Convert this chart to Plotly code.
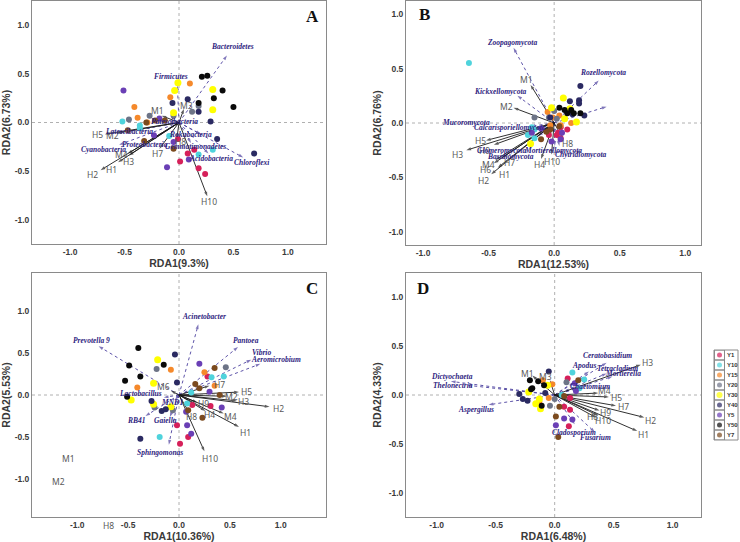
import plotly.graph_objects as go

# ---------------- groups / legend ----------------
GROUPS = ["Y1", "Y10", "Y15", "Y20", "Y30", "Y40", "Y5", "Y50", "Y7"]
GROUP_COLORS = ["#d6205a", "#4fd3dc", "#f5892b", "#6d7487", "#ffff00",
                "#2b2a62", "#6a3fb5", "#0a0a0a", "#7b4a1e"]

# ---------------- Panel A (bacteria phyla) ----------------
A_px = [0.21, 0.26, 0.40, 0.32, 0.50, 0.18,
        -0.01, -0.04, 0.31, 0.31, -0.05,
        0.10, -0.08, -0.41, -0.38, -0.29,
        0.12, 0.18, -0.05, -0.27, -0.46,
        0.08, -0.06, 0.18, 0.29, 0.35, 0.69,
        -0.51, -0.18, -0.23, -0.05, 0.09, -0.11,
        -0.52, -0.36, -0.36, -0.09, 0.18, 0.31,
        -0.47, -0.30, -0.22, -0.13, -0.32, -0.05,
        -0.01, 0.14, 0.08, 0.01, 0.18, 0.24]
A_py = [0.47, 0.48, 0.33, 0.25, 0.16, 0.20,
        0.41, 0.33, 0.34, 0.13, 0.10,
        0.40, 0.26, 0.16, 0.05, 0.00,
        0.11, 0.17, 0.07, 0.07, 0.03,
        0.24, 0.20, 0.11, 0.01, -0.17, -0.32,
        0.33, 0.04, -0.13, -0.20, -0.38, -0.46,
        0.01, -0.03, -0.06, -0.14, -0.33, -0.28,
        -0.08, 0.00, 0.02, 0.02, -0.19, -0.27,
        -0.17, -0.28, -0.32, -0.40, -0.47, -0.53]
A_pg = (["Y50"] * 6 + ["Y30"] * 5 + ["Y15"] * 5 + ["Y20"] * 5 + ["Y40"] * 6 +
        ["Y5"] * 6 + ["Y10"] * 6 + ["Y7"] * 6 + ["Y1"] * 6)

A_env_names = ["M1", "M3", "H5", "M2", "M4", "H3", "H1", "H2", "H7", "H8", "H10"]
A_env_x = [-0.16, 0.045, -0.68, -0.57, -0.47, -0.46, -0.56, -0.72, -0.18, -0.02, 0.26]
A_env_y = [0.07, 0.14, -0.12, -0.11, -0.32, -0.34, -0.41, -0.49, -0.27, -0.17, -0.76]
A_env_lx = [-0.20, 0.07, -0.75, -0.61, -0.53, -0.46, -0.62, -0.79, -0.20, 0.01, 0.28]
A_env_ly = [0.12, 0.17, -0.12, -0.13, -0.33, -0.40, -0.48, -0.53, -0.32, -0.20, -0.81]

A_tax_names = ["Bacteroidetes", "Firmicutes", "Patescibacteria", "Latescibacteria",
               "Proteobacteria", "Cyanobacteria", "Rokubacteria", "Gemmatimonadetes",
               "Acidobacteria", "Chloroflexi"]
A_tax_x = [0.44, -0.015, -0.20, -0.38, -0.25, -0.55, 0.20, 0.11, 0.27, 0.59]
A_tax_y = [0.69, 0.38, 0.02, -0.08, -0.18, -0.23, -0.12, -0.21, -0.32, -0.36]
A_tax_lx = [0.49, -0.07, -0.04, -0.46, -0.31, -0.69, 0.11, 0.15, 0.29, 0.67]
A_tax_ly = [0.78, 0.47, 0.01, -0.09, -0.23, -0.28, -0.12, -0.25, -0.37, -0.41]

# ---------------- Panel B (fungal phyla) ----------------
B_px = [0.20, 0.19, 0.19, 0.12, 0.23, 0.14, -0.03,
        0.04, 0.08, 0.13, 0.15, 0.20, 0.10,
        0.07, -0.02, 0.12, 0.08, 0.17, -0.18,
        -0.05, 0.04, -0.03, 0.13, 0.05, -0.01,
        0.00, -0.15, -0.04, 0.02,
        -0.65, -0.20, -0.15, -0.15, -0.17,
        -0.17, -0.02, 0.05, 0.06, -0.10,
        -0.10, -0.06, 0.04, -0.03,
        0.02, 0.05, 0.10, 0.05, -0.04, 0.03]
B_py = [0.34, 0.21, 0.18, 0.20, 0.07, 0.08, 0.05,
        0.14, 0.12, 0.12, 0.09, 0.09, 0.09,
        0.23, 0.14, 0.13, 0.04, 0.01, -0.19,
        0.10, 0.07, -0.02, 0.00, -0.02, 0.05,
        0.11, 0.05, 0.05, 0.04,
        0.55, -0.11, -0.14, -0.06, -0.04,
        -0.09, -0.17, -0.15, -0.09, -0.05,
        -0.15, -0.08, -0.03, -0.06,
        -0.11, -0.04, -0.06, -0.14, -0.11, -0.09]
B_pg = (["Y40"] * 7 + ["Y50"] * 6 + ["Y30"] * 6 + ["Y15"] * 6 + ["Y20"] * 4 +
        ["Y10"] * 5 + ["Y5"] * 5 + ["Y7"] * 4 + ["Y1"] * 6)

B_env_names = ["M1", "M2", "H5", "H9", "H3", "M4", "H6", "H7", "H1", "H2", "H4", "H10", "H8"]
B_env_x = [-0.18, -0.31, -0.52, -0.46, -0.67, -0.45, -0.46, -0.40, -0.43, -0.48, -0.10, -0.02, 0.07]
B_env_y = [0.35, 0.14, -0.16, -0.20, -0.25, -0.34, -0.37, -0.32, -0.41, -0.47, -0.33, -0.29, -0.15]
B_env_lx = [-0.21, -0.36, -0.56, -0.53, -0.74, -0.50, -0.52, -0.34, -0.38, -0.54, -0.11, -0.02, 0.10]
B_env_ly = [0.40, 0.15, -0.16, -0.25, -0.29, -0.38, -0.43, -0.36, -0.47, -0.53, -0.38, -0.35, -0.19]

B_tax_names = ["Zoopagomycota", "Rozellomycota", "", "Kickxellomycota", "Mucoromycota",
               "Calcarisporiellomycota", "Glomeromycota", "Mortierellomycota",
               "Basidiomycota", "Chytridiomycota"]
B_tax_x = [-0.31, 0.34, 0.40, -0.28, -0.18, -0.12, -0.12, 0.005, -0.17, 0.04]
B_tax_y = [0.69, 0.39, 0.15, 0.25, -0.03, -0.04, -0.12, -0.21, -0.16, -0.21]
B_tax_lx = [-0.32, 0.37, 0.40, -0.41, -0.67, -0.34, -0.40, -0.01, -0.33, 0.20]
B_tax_ly = [0.74, 0.46, 0.15, 0.29, 0.00, -0.04, -0.25, -0.25, -0.31, -0.29]

# ---------------- Panel C (bacterial genera) ----------------
C_px = [-0.40, -0.49, -0.38, -0.53, -0.51, -0.15,
        -0.21, -0.25, -0.47, -0.25, -0.08,
        -0.08, -0.41, 0.25, 0.35,
        -0.22, 0.46, -0.24, -0.06,
        -0.04, -0.02, -0.27, -0.17, -0.13, -0.38,
        0.20, 0.30, 0.42, 0.07, 0.08, 0.12,
        0.32, 0.44, 0.12, 0.08, -0.19,
        0.35, 0.16, 0.20, 0.40, 0.09, 0.23,
        0.28, 0.13, 0.31, -0.02, 0.01, 0.09]
C_py = [0.56, 0.35, 0.22, 0.17, -0.02, 0.36,
        0.42, 0.14, -0.06, -0.11, -0.14,
        0.30, 0.09, 0.27, 0.11,
        0.31, 0.33, -0.15, -0.18,
        0.48, 0.15, -0.07, -0.19, -0.17, -0.52,
        0.37, 0.04, -0.15, -0.20, -0.36, -0.46,
        0.21, 0.22, 0.03, -0.10, -0.50,
        0.32, 0.13, 0.08, 0.00, -0.18, -0.27,
        0.22, -0.12, -0.13, -0.36, -0.58, -0.50]
C_pg = (["Y50"] * 6 + ["Y30"] * 5 + ["Y15"] * 4 + ["Y20"] * 4 + ["Y40"] * 6 +
        ["Y5"] * 6 + ["Y10"] * 5 + ["Y7"] * 6 + ["Y1"] * 6)

C_env_names = ["H5", "M2", "H3", "H2", "M4", "H1", "H4", "H9", "H8", "H10", "H7", "M6"]
C_env_x = [0.59, 0.47, 0.57, 0.89, 0.44, 0.59, 0.26, 0.18, 0.10, 0.25, 0.30, -0.08]
C_env_y = [0.035, -0.015, -0.07, -0.14, -0.22, -0.38, -0.19, -0.09, -0.21, -0.67, 0.11, 0.05]
C_env_lx = [0.66, 0.52, 0.63, 0.98, 0.51, 0.65, 0.30, 0.24, 0.12, 0.30, 0.40, -0.15]
C_env_ly = [0.04, -0.02, -0.08, -0.16, -0.25, -0.45, -0.23, -0.10, -0.26, -0.76, 0.12, 0.10]
C_stray_names = ["M1", "M2"]
C_stray_x = [-1.09, -1.18]
C_stray_y = [-0.76, -1.03]

C_tax_names = ["Acinetobacter", "Prevotella 9", "Pantoea", "Vibrio", "Aeromicrobium",
               "Lactobacillus", "RB41", "Gaiella", "Sphingomonas", "MND1"]
C_tax_x = [0.19, -0.79, 0.58, 0.71, 0.80, -0.15, -0.33, -0.09, -0.10, -0.04]
C_tax_y = [0.84, 0.58, 0.57, 0.42, 0.37, -0.03, -0.25, -0.26, -0.59, -0.06]
C_tax_lx = [0.25, -0.86, 0.66, 0.81, 0.95, -0.38, -0.42, -0.13, -0.19, -0.07]
C_tax_ly = [0.93, 0.65, 0.65, 0.50, 0.42, 0.02, -0.30, -0.30, -0.68, -0.09]

# ---------------- Panel D (fungal genera) ----------------
D_px = [-0.21, -0.14, -0.19, -0.20, -0.09, -0.11,
        -0.05, -0.30, -0.27, -0.23, -0.08,
        -0.22, -0.06, -0.13, -0.16, -0.12,
        -0.10, -0.02, -0.05, -0.13,
        0.10, -0.04, 0.00,
        0.15, 0.25, 0.21, 0.06,
        0.17, 0.01, 0.08, 0.15, 0.18,
        0.11, 0.08, 0.13, 0.12, 0.13,
        0.20, 0.01, 0.04, 0.03, 0.08]
D_py = [0.15, 0.14, 0.07, 0.06, 0.10, -0.11,
        0.24, 0.01, -0.04, -0.06, 0.02,
        0.03, 0.10, -0.04, -0.09, -0.14,
        0.15, 0.11, -0.03, -0.07,
        0.13, -0.11, -0.04,
        0.23, 0.16, 0.07, 0.00,
        0.12, -0.31, -0.24, -0.25, 0.04,
        0.17, -0.12, -0.15, -0.32, -0.03,
        0.15, -0.22, -0.12, -0.43, -0.01]
D_pg = (["Y50"] * 6 + ["Y40"] * 5 + ["Y30"] * 5 + ["Y15"] * 4 + ["Y20"] * 3 +
        ["Y10"] * 4 + ["Y5"] * 5 + ["Y1"] * 5 + ["Y7"] * 5)

D_env_names = ["H3", "M4", "H5", "H7", "H9", "H8", "H10", "H2", "H1", "M1", "M3"]
D_env_x = [0.73, 0.37, 0.46, 0.52, 0.38, 0.37, 0.35, 0.76, 0.70, -0.19, -0.04]
D_env_y = [0.31, 0.02, -0.02, -0.11, -0.16, -0.21, -0.23, -0.23, -0.37, 0.20, 0.15]
D_env_lx = [0.79, 0.42, 0.52, 0.58, 0.43, 0.32, 0.41, 0.81, 0.75, -0.23, -0.08]
D_env_ly = [0.33, 0.05, -0.03, -0.12, -0.18, -0.22, -0.26, -0.26, -0.40, 0.22, 0.19]

D_tax_names = ["Ceratobasidium", "Apodus", "Tetracladium", "Mortierella", "Chaetomium",
               "Dictyochaeta", "Thelonectria", "Aspergillus", "Cladosporium", "Fusarium"]
D_tax_x = [0.44, 0.29, 0.44, 0.49, 0.20, -0.88, -0.74, -0.56, 0.17, 0.34]
D_tax_y = [0.33, 0.24, 0.22, 0.19, 0.07, 0.14, 0.10, -0.10, -0.30, -0.38]
D_tax_lx = [0.45, 0.25, 0.53, 0.58, 0.30, -0.87, -0.86, -0.67, 0.16, 0.35]
D_tax_ly = [0.40, 0.30, 0.27, 0.22, 0.09, 0.19, 0.10, -0.15, -0.38, -0.44]

AXIS_TITLES = {"A": ("RDA1(9.3%)", "RDA2(6.73%)"), "B": ("RDA1(12.53%)", "RDA2(6.76%)"),
               "C": ("RDA1(10.36%)", "RDA2(5.53%)"), "D": ("RDA1(6.48%)", "RDA2(4.33%)")}
TICKS = [-1.0, -0.5, 0.0, 0.5, 1.0]

# ---------------- layout geometry (pixels) ----------------
W, H = 740, 542
PANELS = {
    "A": dict(sfx="", px=(32, 326), py=(1, 244), xr=(-1.35, 1.35), yr=(-1.25, 1.25),
              letter=(312, 16)),
    "B": dict(sfx="2", px=(406, 701), py=(1, 245), xr=(-1.13, 1.12), yr=(-1.12, 1.12),
              letter=(424, 15)),
    "C": dict(sfx="3", px=(32, 326), py=(273, 517), xr=(-1.445, 1.445), yr=(-1.45, 1.45),
              letter=(312, 288)),
    "D": dict(sfx="4", px=(406, 701), py=(273, 517), xr=(-1.26, 1.24), yr=(-1.25, 1.25),
              letter=(423, 288)),
}
DATA = {
    "A": (A_px, A_py, A_pg, A_env_names, A_env_x, A_env_y, A_env_lx, A_env_ly,
          A_tax_names, A_tax_x, A_tax_y, A_tax_lx, A_tax_ly),
    "B": (B_px, B_py, B_pg, B_env_names, B_env_x, B_env_y, B_env_lx, B_env_ly,
          B_tax_names, B_tax_x, B_tax_y, B_tax_lx, B_tax_ly),
    "C": (C_px, C_py, C_pg, C_env_names, C_env_x, C_env_y, C_env_lx, C_env_ly,
          C_tax_names, C_tax_x, C_tax_y, C_tax_lx, C_tax_ly),
    "D": (D_px, D_py, D_pg, D_env_names, D_env_x, D_env_y, D_env_lx, D_env_ly,
          D_tax_names, D_tax_x, D_tax_y, D_tax_lx, D_tax_ly),
}

ENV_COLOR = "#1a1a1a"
TAX_COLOR = "#4b3f9e"
TAX_TEXT = "#2e2380"
ENV_TEXT = "#5a5a5a"
FRAME = "#8a8a8a"

fig = go.Figure()
annotations = []
shapes = []
layout_axes = {}


def px2dom_x(p):
    return p / W


def px2dom_y(p):
    return (H - p) / H


for key, P in PANELS.items():
    s = P["sfx"]
    xa, ya = "x" + s, "y" + s
    (pxs, pys, pgs, en, ex, ey, elx, ely, tn, tx, ty, tlx, tly) = DATA[key]
    xt, yt = AXIS_TITLES[key]
    tickfont = dict(family="Liberation Sans, Arial", size=8.5, color="#3a3a3a", weight="bold")
    layout_axes["xaxis" + s] = dict(
        domain=[px2dom_x(P["px"][0]), px2dom_x(P["px"][1])], range=list(P["xr"]),
        anchor=ya, tickvals=TICKS, ticktext=["%.1f" % t for t in TICKS],
        showgrid=False, zeroline=False, showline=True, mirror=True, linecolor=FRAME,
        linewidth=1, ticks="", tickfont=tickfont, automargin=False,
        title=dict(text=xt, standoff=3,
                   font=dict(family="Liberation Sans, Arial", size=10.5, color="#3a3a3a",
                             weight="bold")))
    layout_axes["yaxis" + s] = dict(
        domain=[px2dom_y(P["py"][1]), px2dom_y(P["py"][0])], range=list(P["yr"]),
        anchor=xa, tickvals=TICKS, ticktext=["%.1f" % t for t in TICKS],
        showgrid=False, zeroline=False, showline=True, mirror=True, linecolor=FRAME,
        linewidth=1, ticks="", tickfont=tickfont, automargin=False,
        title=dict(text=yt, standoff=4,
                   font=dict(family="Liberation Sans, Arial", size=10.5, color="#3a3a3a",
                             weight="bold")))

    # dashed zero lines
    shapes.append(dict(type="line", xref=xa, yref=ya + " domain", x0=0, x1=0, y0=0, y1=1,
                       line=dict(color="#b0b0b0", width=1, dash="3px,3px"), layer="below"))
    shapes.append(dict(type="line", xref=xa + " domain", yref=ya, x0=0, x1=1, y0=0, y1=0,
                       line=dict(color="#b0b0b0", width=1, dash="3px,3px"), layer="below"))

    # taxa arrows (dotted)
    for x1, y1 in zip(tx, ty):
        fig.add_trace(go.Scatter(
            x=[0, x1], y=[0, y1], xaxis=xa, yaxis=ya, mode="lines+markers",
            line=dict(color=TAX_COLOR, width=0.9, dash="dot"),
            marker=dict(symbol=["circle", "arrow"], size=[0, 5], angleref="previous",
                        color=TAX_COLOR, line=dict(width=0)),
            hoverinfo="skip", showlegend=False))
    # environmental arrows (solid)
    for x1, y1 in zip(ex, ey):
        fig.add_trace(go.Scatter(
            x=[0, x1], y=[0, y1], xaxis=xa, yaxis=ya, mode="lines+markers",
            line=dict(color=ENV_COLOR, width=0.9),
            marker=dict(symbol=["circle", "arrow"], size=[0, 5], angleref="previous",
                        color=ENV_COLOR, line=dict(width=0)),
            hoverinfo="skip", showlegend=False))
    # sample points per group
    for g, c in zip(GROUPS, GROUP_COLORS):
        xs = [x for x, gg in zip(pxs, pgs) if gg == g]
        ys = [y for y, gg in zip(pys, pgs) if gg == g]
        fig.add_trace(go.Scatter(
            x=xs, y=ys, xaxis=xa, yaxis=ya, mode="markers",
            marker=dict(color=c, size=7 if g == "Y30" else 6, line=dict(width=0)),
            hoverinfo="skip", showlegend=False))

    # labels
    for name, lx, ly in zip(en, elx, ely):
        annotations.append(dict(x=lx, y=ly, xref=xa, yref=ya, text=name, showarrow=False,
                                font=dict(family="Noto Sans, Open Sans", size=8.5,
                                          color=ENV_TEXT)))
    for name, lx, ly in zip(tn, tlx, tly):
        if name:
            annotations.append(dict(x=lx, y=ly, xref=xa, yref=ya, text=name, showarrow=False,
                                    font=dict(family="Liberation Serif, Times New Roman",
                                              size=7.5, color=TAX_TEXT, style="italic",
                                              weight="bold")))
    # panel letter
    lxp, lyp = P["letter"]
    annotations.append(dict(x=px2dom_x(lxp), y=px2dom_y(lyp), xref="paper", yref="paper",
                            text=key, showarrow=False, xanchor="center", yanchor="middle",
                            font=dict(family="Liberation Serif, Times New Roman", size=17,
                                      color="#111", weight="bold")))

# stray labels in panel C
for name, lx, ly in zip(C_stray_names, C_stray_x, C_stray_y):
    annotations.append(dict(x=lx, y=ly, xref="x3", yref="y3", text=name, showarrow=False,
                            font=dict(family="Noto Sans, Open Sans", size=8.5, color=ENV_TEXT)))
annotations.append(dict(x=-0.69, y=-0.035, xref="x3", yref="y3 domain", text="H8",
                        showarrow=False, yanchor="middle",
                        font=dict(family="Noto Sans, Open Sans", size=8.5, color=ENV_TEXT)))

# ---------------- manual legend on its own small axis ----------------
LEG_PX = (713, 739)
LEG_PY = (350, 440)
layout_axes["xaxis5"] = dict(domain=[px2dom_x(LEG_PX[0]), px2dom_x(LEG_PX[1])], range=[0, 1],
                             anchor="y5", visible=False, fixedrange=True, automargin=False)
layout_axes["yaxis5"] = dict(domain=[px2dom_y(LEG_PY[1]), px2dom_y(LEG_PY[0])],
                             range=[-0.5, len(GROUPS) - 0.5], anchor="x5", visible=False,
                             fixedrange=True, automargin=False)
leg_y = [len(GROUPS) - 1 - i for i in range(len(GROUPS))]
fig.add_trace(go.Scatter(x=[0.25] * len(GROUPS), y=leg_y, xaxis="x5", yaxis="y5",
                         mode="markers",
                         marker=dict(symbol="square-open", size=10, color="#8a8a8a",
                                     line=dict(width=1)),
                         hoverinfo="skip", showlegend=False))
fig.add_trace(go.Scatter(x=[0.25] * len(GROUPS), y=leg_y, xaxis="x5", yaxis="y5",
                         mode="markers",
                         marker=dict(color=GROUP_COLORS,
                                     size=[6 if g == "Y30" else 5 for g in GROUPS],
                                     line=dict(width=0)),
                         hoverinfo="skip", showlegend=False))
for g, yy in zip(GROUPS, leg_y):
    annotations.append(dict(x=0.47, y=yy, xref="x5", yref="y5", text=g, showarrow=False,
                            xanchor="left",
                            font=dict(family="Liberation Sans, Arial", size=6,
                                      color="#333", weight="bold")))
shapes.append(dict(type="rect", xref="paper", yref="paper",
                   x0=px2dom_x(714), x1=px2dom_x(738), y0=px2dom_y(440), y1=px2dom_y(350),
                   line=dict(color="#8a8a8a", width=1)))

fig.update_layout(width=W, height=H, margin=dict(l=0, r=0, t=0, b=0, autoexpand=False),
                  paper_bgcolor="white", plot_bgcolor="white", showlegend=False,
                  annotations=annotations, shapes=shapes, **layout_axes)

# the page body has a default 8px margin; remove it so the figure sits at the window origin
fig.write_html("out.html", config={"displayModeBar": False},
               post_script="document.body.style.margin='0';")
